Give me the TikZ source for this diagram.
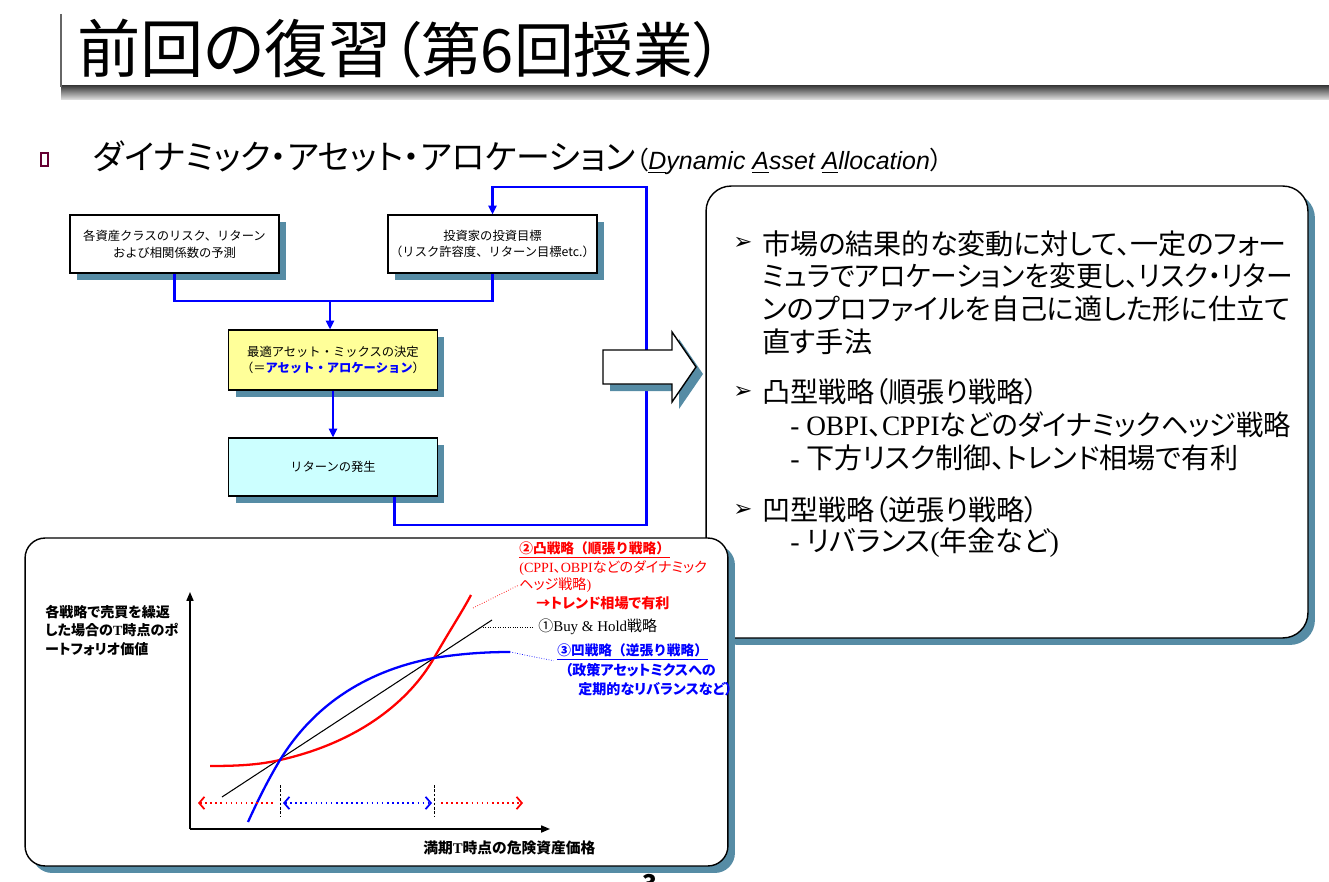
\documentclass[tikz,border=0pt]{standalone}
\usepackage{fontspec}
\usepackage{graphicx}
\setmainfont{Noto Sans CJK JP}
\newfontfamily\jpprop[RawFeature=+palt]{Noto Sans CJK JP}
\newfontfamily\timesfont{Liberation Serif}
\newfontfamily\arialfont{Liberation Sans}
\newfontfamily\symfont{DejaVu Sans}
\usetikzlibrary{arrows.meta,shadows}
\definecolor{shadowblue}{RGB}{86,140,165}
\definecolor{boxyellow}{RGB}{255,255,153}
\definecolor{boxcyan}{RGB}{204,255,255}
\definecolor{bulletred}{RGB}{102,0,51}
\begin{document}
\begin{tikzpicture}[
    x=0.02cm, y=-0.02cm,
    flowbox/.style={rectangle, draw, line width=0.6pt, fill=white, minimum width=4.18cm, minimum height=1.16cm, inner sep=0pt, align=center, font=\fontsize{7}{9.5}\selectfont, drop shadow={shadow xshift=0.14cm, shadow yshift=-0.14cm, fill=shadowblue, opacity=1}},
    flow/.style={blue, line width=1.7pt},
    flowarrow/.style={flow, -{Triangle[length=5pt, width=4.5pt]}},
    panel/.style={rectangle, draw, line width=0.8pt, fill=white, rounded corners=0.5cm, drop shadow={shadow xshift=0.14cm, shadow yshift=-0.14cm, fill=shadowblue, opacity=1}},
    bigtext/.style={font=\jpprop\fontsize{16}{18.7}\selectfont, inner sep=0pt, anchor=west, align=left},
    bullet/.style={font=\symfont\fontsize{13}{13}\selectfont, inner sep=0pt},
    note/.style={font=\jpprop\fontsize{8}{9.6}\selectfont, inner sep=0pt, anchor=west},
    boldnote/.style={note, font=\jpprop\fontsize{8}{9.6}\selectfont\bfseries},
    headnote/.style={note, font=\fontsize{7.8}{9.6}\selectfont\bfseries},
    span/.style={line width=0.9pt, dotted},
    leader/.style={densely dotted, line width=0.4pt},
    axis/.style={line width=0.8pt, -{Triangle[length=5pt, width=4pt]}},
    >={Straight Barb[length=3pt, width=7pt, line width=1pt]}
]
\useasboundingbox (0,0) rectangle (1329,882);

% Title bar
\shade[top color=black!75, bottom color=black!10] (61,86) rectangle (1329,100);
\draw[black!60, line width=0.8pt] (61,14) -- (61,87);
\node[anchor=west, inner sep=0pt, font=\jpprop\fontsize{36}{36}\selectfont] (title) at (77,49) {前回の復習{\fontsize{34}{34}\selectfont（第6回授業）}};

% Heading
\draw[bulletred, line width=0.8pt] (41,153) rectangle (48,166);
\node[anchor=west, inner sep=0pt, font=\jpprop\fontsize{19.3}{19.3}\selectfont] (heading) at (93,158) {ダイナミック・アセット・アロケーション{\fontsize{14.2}{14.2}\selectfont（{\arialfont\itshape\underline{D}ynamic \underline{A}sset \underline{A}llocation}）}};

% Flow chart
\node[flowbox] (risk) at (174.5,244) {各資産クラスのリスク、リターン\\および相関係数の予測};
\node[flowbox] (goal) at (492.5,244) {投資家の投資目標\\（リスク許容度、リターン目標etc.）};
\node[flowbox, fill=boxyellow, minimum height=1.2cm] (mix) at (333,360) {最適アセット・ミックスの決定\\（＝{\color{blue}\bfseries アセット・アロケーション}）};
\node[flowbox, fill=boxcyan] (ret) at (333,467) {リターンの発生};

\coordinate (join) at (330,301);
\coordinate (toprow) at (0,187);
\coordinate (loopbottom) at (646,525);
\draw[flow] (risk.south) |- (join) -| (goal.south);
\draw[flowarrow] (join) -- (join |- mix.north);
\draw[flowarrow] (mix) -- (ret);
\draw[flowarrow] ([xshift=1.24cm]ret.south) |- (loopbottom) |- (goal.north |- toprow) -- (goal.north);

% Hollow arrow
\fill[shadowblue, shift={(7,7)}] (603,350) -- (672,350) -- (672,332) -- (696,367) -- (672,402) -- (672,384) -- (603,384) -- cycle;
\draw[fill=white, line width=0.8pt] (603,350) -- (672,350) -- (672,332) -- (696,367) -- (672,402) -- (672,384) -- (603,384) -- cycle;

% Summary panel
\node[panel, minimum width=12.04cm, minimum height=9.04cm] (summary) at (1007,412) {};
\node[bullet] (b1) at (743,243) {➢};
\node[bigtext, anchor=north west] (p1) at (762,230) {市場の結果的な変動に対して、一定のフォー\\\scalebox{0.95}[1]{ミュラでアロケーションを変更し、リスク・リター}\\ンのプロファイルを自己に適した形に仕立て\\直す手法};
\node[bullet] (b2) at (743,392) {➢};
\node[bigtext] (p2) at (762,392) {凸型戦略（順張り戦略）};
\node[bigtext] (p2a) at (790,425) {\scalebox{0.97}[1]{{\timesfont - OBPI}、{\timesfont CPPI}などのダイナミックヘッジ戦略}};
\node[bigtext] (p2b) at (790,458) {{\timesfont -} 下方リスク制御、トレンド相場で有利};
\node[bullet] (b3) at (743,510) {➢};
\node[bigtext] (p3) at (762,510) {凹型戦略（逆張り戦略）};
\node[bigtext] (p3a) at (790,543) {{\timesfont - }リバランス{\timesfont (}年金など{\timesfont )}};

% Chart panel
\node[panel, rounded corners=0.4cm, minimum width=14.06cm, minimum height=6.56cm] (chartpanel) at (376.5,702) {};
\coordinate (origin) at (190,829);
\draw[axis] (origin) -- (190,592);
\draw[axis] (origin) -- (550,829);
\node[boldnote, anchor=north west, align=left, font=\jpprop\fontsize{8}{10.4}\selectfont\bfseries] (ylabel) at (45,605) {各戦略で売買を繰返\\した場合の{\timesfont T}時点のポ\\ートフォリオ価値};
\node[boldnote, font=\jpprop\fontsize{8.4}{10}\selectfont\bfseries] (xlabel) at (423,848) {満期{\timesfont T}時点の危険資産価格};

% Strategy curves
\draw[black, line width=0.6pt] (222,797) -- (492,620);
\draw[red, line width=1.3pt] (210,766) .. controls (245,766) and (262,764) .. (280,760) .. controls (360,742) and (410,700) .. (434,658) .. controls (450,630) and (462,612) .. (471,595);
\draw[blue, line width=1.3pt] (248,822) .. controls (258,800) and (268,780) .. (280,760) .. controls (320,695) and (380,668) .. (434,658) .. controls (465,653) and (490,652) .. (510,652);

% Price ranges
\draw[dash pattern=on 1.5pt off 1pt, line width=0.4pt] (280,785) -- (280,817);
\draw[dash pattern=on 1.5pt off 1pt, line width=0.4pt] (434,785) -- (434,817);
\draw[span, red, <-] (198,803) -- (273,803);
\draw[span, blue, <->] (283,803) -- (432,803);
\draw[span, red, ->] (441,803) -- (523,803);

% Labels
\node[headnote, red] (convexhead) at (519,550) {\underline{②凸戦略（順張り戦略）}};
\node[note, red] (convexsub) at (519,568) {{\timesfont (CPPI}、{\timesfont OBPI}などのダイナミック};
\node[note, red] (hedge) at (519,585) {ヘッジ戦略{\timesfont )}};
\node[boldnote, red] (trend) at (536,603) {→トレンド相場で有利};
\node[note, font=\jpprop\fontsize{8.5}{10}\selectfont] (buyhold) at (538,627) {①{\timesfont Buy \& Hold}戦略};
\node[headnote, blue] (concavehead) at (557,652) {\underline{③凹戦略（逆張り戦略）}};
\node[boldnote, blue] (policy) at (565,670) {（政策アセットミクスへの};
\node[boldnote, blue] (rebal) at (578,689) {定期的なリバランスなど）};

\coordinate (redtip) at (473,608);
\coordinate (bhpoint) at (483,627);
\coordinate (bluetip) at (510,652);
\draw[leader, red] (redtip) -- (hedge.west);
\draw[leader, black] (bhpoint) -- ([xshift=-2pt]buyhold.west);
\draw[leader, blue] (bluetip) -- ([xshift=-2pt]concavehead.south west);

% Page number
\node[font=\fontsize{14}{14}\selectfont\bfseries] (pagenum) at (650,884) {3};
\end{tikzpicture}
\end{document}
